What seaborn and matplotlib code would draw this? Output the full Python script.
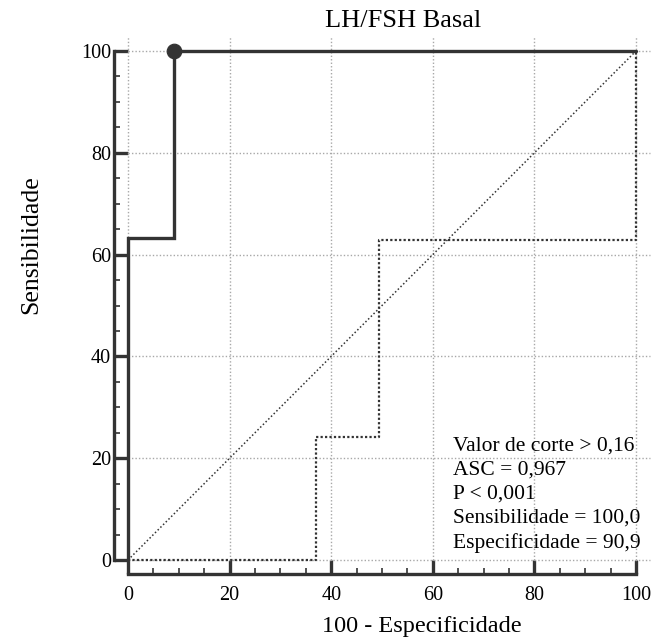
import matplotlib
matplotlib.use("Agg")
import matplotlib.pyplot as plt
import seaborn as sns
from matplotlib.ticker import MultipleLocator

# ---- data ----
title = "LH/FSH Basal"
xlabel = "100 - Especificidade"
ylabel = "Sensibilidade"

# ROC curve (100 - specificity, sensitivity)
roc_fpr = [0, 0, 9.1, 9.1, 100]
roc_tpr = [0, 63.3, 63.3, 100, 100]

# dotted reference curve
ref_fpr = [0, 37.0, 37.0, 49.5, 49.5, 100, 100]
ref_tpr = [0, 0, 24.2, 24.2, 62.8, 62.8, 100]

# diagonal
diag_x = [0, 100]
diag_y = [0, 100]

# optimal cut-off point
cut_x = [9.1]
cut_y = [100]

stats_lines = [
    "Valor de corte > 0,16",
    "ASC = 0,967",
    "P < 0,001",
    "Sensibilidade = 100,0",
    "Especificidade = 90,9",
]

major_ticks = [0, 20, 40, 60, 80, 100]

# ---- style ----
sns.set_theme(style="white")
plt.rcParams["font.family"] = ["Liberation Serif", "DejaVu Serif"]

W, H = 657, 644
fig = plt.figure(figsize=(W / 100, H / 100), dpi=100)
x0, x1, y0, y1 = 128, 636, 51, 560
ax = fig.add_axes([x0 / W, 1 - y1 / H, (x1 - x0) / W, (y1 - y0) / H])

dark = "#333333"
off = 14 * 72 / 100  # spine offset in points

# grid (dotted, extending slightly past data area)
ext_x = 1 + 14 / (x1 - x0)
ext_y = 1 + 14 / (y1 - y0)
for t in major_ticks:
    ax.axvline(t, ymin=0, ymax=ext_y, color="#a8a8a8", lw=1.0,
               ls=(0, (1, 1.5)), clip_on=False, zorder=1)
    ax.axhline(t, xmin=0, xmax=ext_x, color="#a8a8a8", lw=1.0,
               ls=(0, (1, 1.5)), clip_on=False, zorder=1)

sns.lineplot(x=diag_x, y=diag_y, ax=ax, sort=False, estimator=None,
             color=dark, lw=1.1, ls=(0, (1, 1.5)), clip_on=False, zorder=2)
sns.lineplot(x=ref_fpr, y=ref_tpr, ax=ax, sort=False, estimator=None,
             color=dark, lw=1.6, ls=(0, (1, 1)), clip_on=False, zorder=2)
sns.lineplot(x=roc_fpr, y=roc_tpr, ax=ax, sort=False, estimator=None,
             color=dark, lw=2.4, clip_on=False, zorder=3,
             solid_joinstyle="miter")
sns.scatterplot(x=cut_x, y=cut_y, ax=ax, s=110, color=dark,
                edgecolor=dark, clip_on=False, zorder=4)

ax.set_xlim(0, 100)
ax.set_ylim(0, 100)

for s in ["top", "right"]:
    ax.spines[s].set_visible(False)
for s in ["left", "bottom"]:
    ax.spines[s].set_position(("outward", off))
    ax.spines[s].set_linewidth(2.4)
    ax.spines[s].set_color(dark)

ax.xaxis.set_major_locator(MultipleLocator(20))
ax.yaxis.set_major_locator(MultipleLocator(20))
ax.xaxis.set_minor_locator(MultipleLocator(5))
ax.yaxis.set_minor_locator(MultipleLocator(5))
ax.tick_params(axis="both", which="both", bottom=True, left=True,
               top=False, right=False)
ax.tick_params(axis="both", which="major", direction="in", length=off,
               width=2.4, color=dark, labelsize=14.5, labelcolor="black")
ax.tick_params(axis="both", which="minor", direction="in", length=4.5,
               width=1.2, color=dark)
ax.tick_params(axis="x", which="major", pad=9)
ax.tick_params(axis="y", which="major", pad=2)
ax.set_xticks(major_ticks)
ax.set_yticks(major_ticks)

ax.set_xlabel(xlabel, fontsize=17.5, color="black")
ax.set_ylabel(ylabel, fontsize=18.5, color="black")
ax.xaxis.set_label_coords(0.579, -0.1415)
ax.yaxis.set_label_coords(-0.191, 0.619)
ax.xaxis.label.set_verticalalignment("baseline")
ax.yaxis.label.set_verticalalignment("center")

ax.set_title(title, fontsize=19, x=0.542, y=1.047, va="baseline", pad=0,
             color="black")

ax.text(63.9, 2.36, "\n".join(stats_lines), fontsize=15.5, ha="left",
        va="baseline", linespacing=1.365, color="black", zorder=5)

fig.savefig("out.png", dpi=100, facecolor="white")
